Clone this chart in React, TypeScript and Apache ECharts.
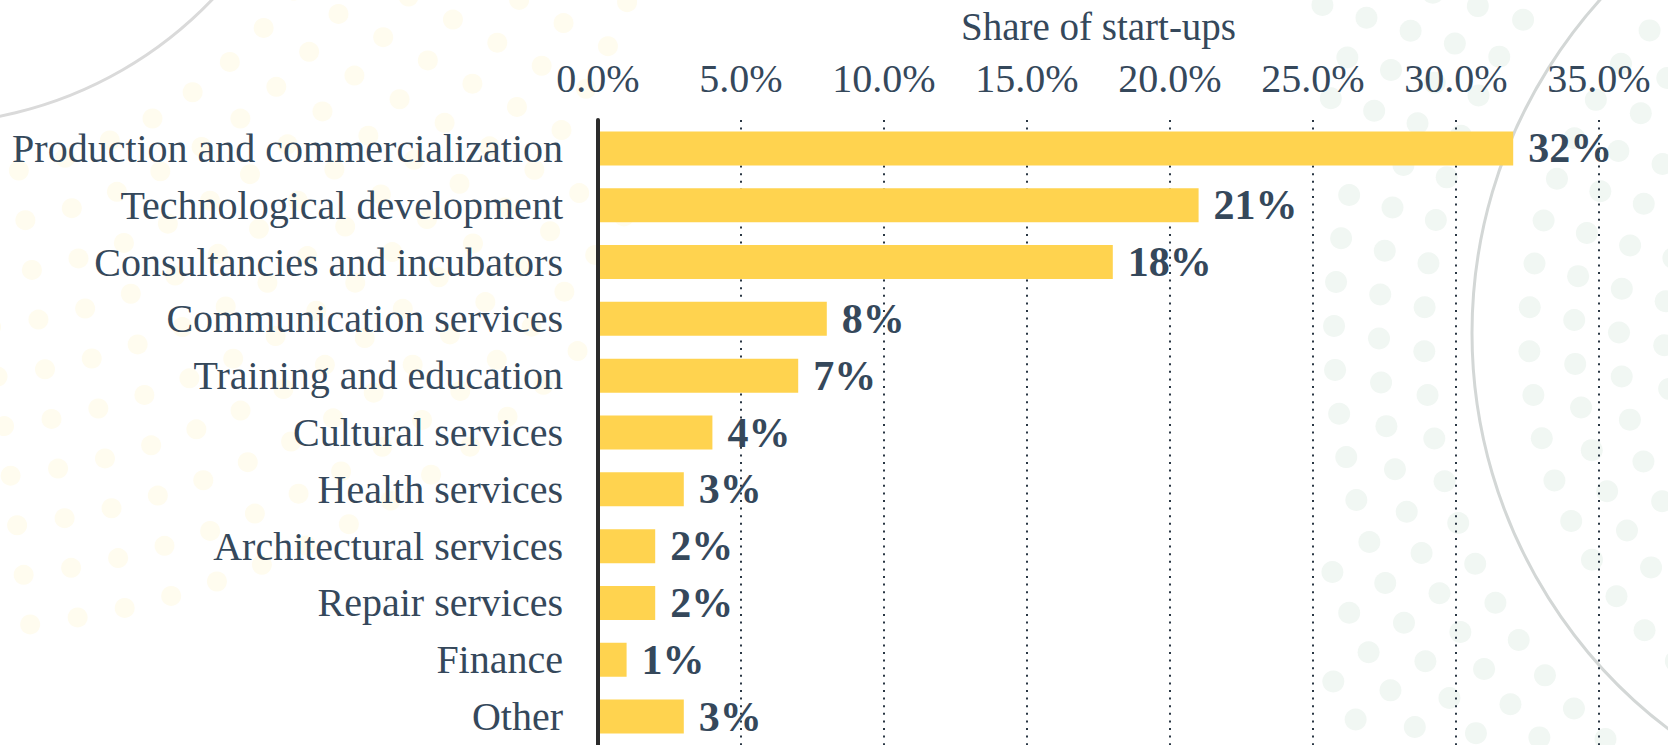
import React, { useEffect, useRef } from "react";
import * as echarts from "echarts";

const categories = [
  "Production and commercialization",
  "Technological development",
  "Consultancies and incubators",
  "Communication services",
  "Training and education",
  "Cultural services",
  "Health services",
  "Architectural services",
  "Repair services",
  "Finance",
  "Other",
];
const shares = [32, 21, 18, 8, 7, 4, 3, 2, 2, 1, 3];
const axisTitle = "Share of start-ups";
const xMin = 0;
const xMax = 35;
const xStep = 5;

const FONT = "Liberation Serif";
const TEXT = "#35485b";
const W = 1668;
const H = 745;

// decorative background: faint dots along arcs
function dotArcs(
  cx: number,
  cy: number,
  radii: number[],
  spacing: number,
  r: number,
  color: string,
  xLo: number,
  xHi: number
) {
  const out: any[] = [];
  radii.forEach((R, i) => {
    const step = spacing / R;
    const off = (i % 2) * step * 0.5;
    for (let a = off; a < Math.PI * 2; a += step) {
      const x = cx + R * Math.cos(a);
      const y = cy + R * Math.sin(a);
      if (x < xLo - r || x > xHi + r || y < -r || y > H + r) continue;
      out.push({
        type: "circle",
        z: -20,
        silent: true,
        shape: { cx: x, cy: y, r },
        style: { fill: color },
      });
    }
  });
  return out;
}

export default function App() {
  const ref = useRef<HTMLDivElement>(null);
  useEffect(() => {
    if (!ref.current) return;
    const chart = echarts.init(ref.current, null, { renderer: "svg" });
    const decor = [
      ...dotArcs(-79, -279, [460, 510, 560, 610, 660, 710, 760, 810, 860, 910], 48, 10, "#fffcef", 0, 620),
      ...dotArcs(1969, 333, [260, 305, 350, 395, 440, 545, 590, 635, 680, 725], 44, 11, "#f1f7f3", 1330, W),
      {
        type: "circle",
        z: -10,
        silent: true,
        shape: { cx: -79, cy: -279, r: 403 },
        style: { fill: "none", stroke: "#dadada", lineWidth: 3 },
      },
      {
        type: "circle",
        z: -10,
        silent: true,
        shape: { cx: 1969, cy: 333, r: 497 },
        style: { fill: "none", stroke: "#d3d7d6", lineWidth: 3 },
      },
    ];
    chart.setOption({
      animation: false,
      backgroundColor: "#ffffff",
      graphic: decor,
      grid: { left: 598, right: 69, top: 120, height: 629, containLabel: false },
      xAxis: {
        type: "value",
        position: "top",
        min: xMin,
        max: xMax,
        interval: xStep,
        name: axisTitle,
        nameLocation: "middle",
        nameGap: 74,
        nameTextStyle: { fontFamily: FONT, fontSize: 39, color: TEXT },
        axisLine: { show: false },
        axisTick: { show: false },
        axisLabel: {
          margin: 22,
          fontFamily: FONT,
          fontSize: 40,
          color: TEXT,
          formatter: (v: number) => v.toFixed(1) + "%",
        },
        splitLine: {
          show: true,
          lineStyle: { color: "#2a3744", width: 2, type: [2, 5.6] },
        },
      },
      yAxis: {
        type: "category",
        data: categories,
        inverse: true,
        offset: 2,
        z: 5,
        axisLine: { show: true, lineStyle: { color: "#2b2b2b", width: 4 } },
        axisTick: { show: false },
        axisLabel: {
          margin: 33,
          fontFamily: FONT,
          fontSize: 40,
          color: TEXT,
        },
        splitLine: { show: false },
      },
      series: [
        {
          type: "bar",
          data: shares,
          barWidth: 34,
          itemStyle: { color: "#FFD34F" },
          label: {
            show: true,
            position: "right",
            distance: 15,
            fontFamily: FONT,
            fontSize: 42,
            fontWeight: "bold",
            color: TEXT,
            formatter: (p: any) => p.value + "%",
          },
        },
      ],
    });
    return () => chart.dispose();
  }, []);
  return (
    <div
      ref={ref}
      style={{ position: "absolute", left: 0, top: 0, width: W, height: H }}
    />
  );
}
